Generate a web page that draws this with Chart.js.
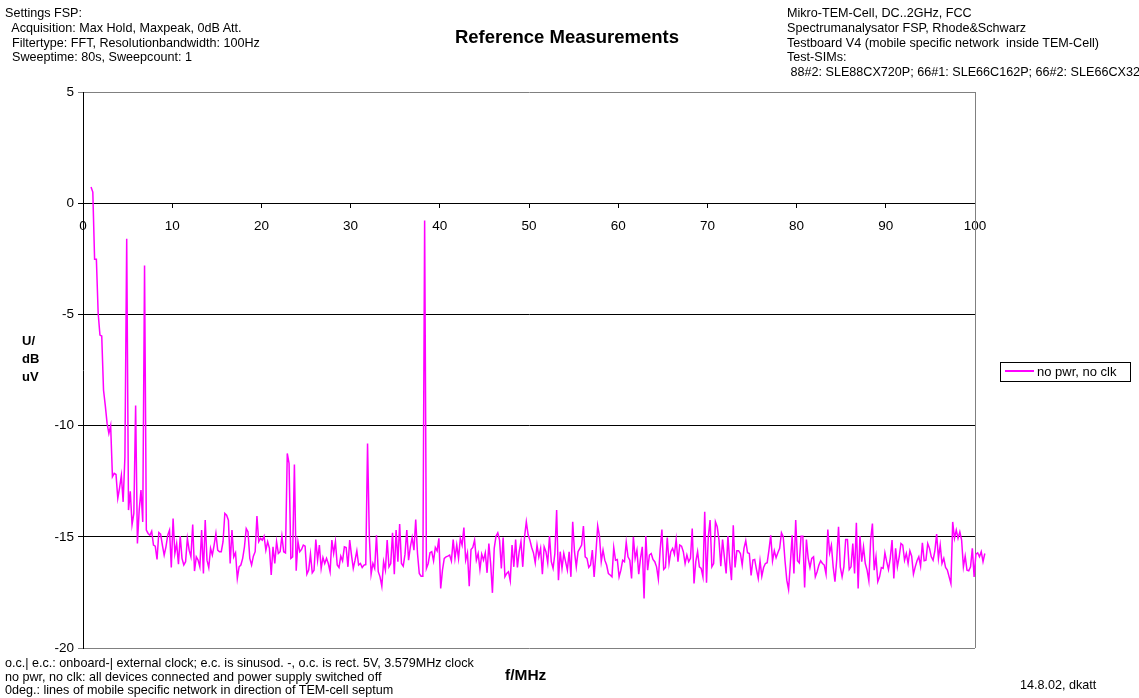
<!DOCTYPE html>
<html>
<head>
<meta charset="utf-8">
<title>Reference Measurements</title>
<script src="https://cdn.jsdelivr.net/npm/chart.js@4.4.1/dist/chart.umd.min.js"></script>
<style>
html, body { margin: 0; padding: 0; background: #fff; overflow: hidden; }
#wrap { position: relative; width: 1139px; height: 698px; overflow: hidden;
        font-family: "Liberation Sans", Arial, sans-serif; color: #000; }
#chart { position: absolute; left: 0; top: 0; }
.note { position: absolute; font-size: 12.6px; line-height: 14.8px; white-space: pre; }
.bold { position: absolute; font-weight: bold; white-space: pre; }
#title { position: absolute; left: 567px; top: 26px; transform: translateX(-50%);
         font-weight: bold; font-size: 18.5px; white-space: nowrap; }
#legend { position: absolute; left: 1000px; top: 362px; width: 129px; height: 18px;
          border: 1px solid #000; font-size: 13px; line-height: 18px; white-space: nowrap; }
#legend span { display: inline-block; width: 29px; height: 2px; background: #ff00ff;
               vertical-align: middle; margin: 0 3px 3px 4px; }
</style>
</head>
<body>
<div id="wrap">
  <canvas id="chart" width="1139" height="698"></canvas>

  <div class="note" style="left:5px; top:6px;">Settings FSP:
  Acquisition: Max Hold, Maxpeak, 0dB Att.
  Filtertype: FFT, Resolutionbandwidth: 100Hz
  Sweeptime: 80s, Sweepcount: 1</div>

  <div id="title">Reference Measurements</div>

  <div class="note" style="left:787px; top:6px;">Mikro-TEM-Cell, DC..2GHz, FCC
Spectrumanalysator FSP, Rhode&amp;Schwarz
Testboard V4 (mobile specific network  inside TEM-Cell)
Test-SIMs:
 88#2: SLE88CX720P; 66#1: SLE66C162P; 66#2: SLE66CX32</div>

  <div class="bold" style="left:22px; top:332px; font-size:13px; line-height:18px;">U/
dB
uV</div>

  <div id="legend"><span></span>no pwr, no clk</div>

  <div class="note" style="left:5px; top:657px; line-height:13.6px;">o.c.| e.c.: onboard-| external clock; e.c. is sinusod. -, o.c. is rect. 5V, 3.579MHz clock
no pwr, no clk: all devices connected and power supply switched off
0deg.: lines of mobile specific network in direction of TEM-cell septum</div>

  <div class="bold" style="left:505px; top:666px; font-size:15.5px;">f/MHz</div>

  <div class="note" style="left:1020px; top:678px;">14.8.02, dkatt</div>
</div>

<script>
// Sweep grid of the analyser trace (MHz)
const sweepStepMHz = 0.2;
const bandStartMHz = [0.9, 7.1, 23.1, 38.9, 54.5, 70.1, 86.1];

// Level in dB uV, one array per frequency band
const band0 = [
  0.73, 0.5, -2.52, -2.52, -4.95, -5.93, -5.97, -8.4, -9.1, -9.9,
  -10.35, -10.0, -12.3, -12.15, -12.2, -13.27, -12.8, -12.24, -13.43, -11.4,
  -1.6, -13.8, -12.95, -14.45, -13.95, -9.1, -15.3, -13.8, -12.9, -14.33,
  -2.8
];
const band1 = [
  -14.70, -14.85, -14.93, -14.75, -15.37, -15.42, -16.02, -14.81, -14.88, -15.37,
  -15.82, -15.45, -14.93, -14.70, -16.38, -14.18, -15.75, -15.30, -16.23, -14.97,
  -15.97, -16.27, -16.12, -15.07, -15.60, -15.90, -14.45, -16.54, -15.90, -16.05,
  -16.35, -14.70, -16.65, -14.25, -16.05, -16.39, -15.52, -15.82, -15.37, -14.85,
  -15.60, -15.67, -15.67, -15.22, -13.95, -14.03, -14.25, -16.20, -14.70, -15.90,
  -15.72, -16.87, -16.35, -16.27, -15.97, -15.45, -14.63, -14.78, -15.97, -16.27,
  -15.87, -15.67, -14.07, -15.22, -15.07, -15.15, -14.97, -15.60, -15.22, -15.52,
  -16.72, -15.45, -16.20, -15.22, -15.75, -15.67, -14.97, -15.67, -15.72, -11.25
];
const band2 = [
  -11.70, -15.97, -15.90, -11.75, -16.53, -15.22, -15.67, -15.57, -15.37, -15.42,
  -16.68, -16.50, -15.78, -16.62, -16.50, -15.12, -16.05, -15.37, -16.42, -15.93,
  -16.20, -15.97, -16.20, -16.57, -15.15, -15.75, -15.22, -16.27, -16.38, -15.87,
  -16.08, -15.45, -15.48, -16.35, -15.15, -15.82, -16.42, -16.05, -15.63, -16.27,
  -16.20, -16.38, -16.27, -16.25, -10.80, -15.00, -16.68, -16.20, -16.42, -14.93,
  -16.57, -16.80, -17.22, -16.12, -16.50, -15.15, -16.35, -16.20, -14.82, -16.68,
  -14.70, -16.12, -14.43, -16.20, -16.32, -15.78, -14.70, -16.05, -15.45, -15.03,
  -15.60, -14.22, -15.75, -16.65, -16.77, -16.77, -0.78, -16.42, -16.20
];
const band3 = [
  -15.72, -15.67, -16.08, -15.48, -15.63, -15.07, -17.32, -16.50, -15.97, -15.90,
  -15.87, -15.82, -16.09, -15.12, -15.97, -15.37, -15.97, -15.07, -15.37, -14.58,
  -16.05, -15.72, -17.22, -15.57, -15.48, -15.15, -16.05, -15.75, -16.47, -15.78,
  -16.05, -15.72, -16.62, -15.30, -16.20, -17.52, -15.52, -14.97, -14.82, -15.15,
  -16.42, -15.03, -16.80, -16.65, -16.57, -16.98, -15.37, -16.35, -15.12, -16.38,
  -15.67, -15.22, -16.35, -15.00, -14.33, -14.90, -15.15, -15.48, -15.72, -16.17,
  -15.37, -15.90, -15.52, -16.68, -15.45, -15.67, -16.17, -14.97, -16.12, -16.42,
  -15.75, -13.80, -16.95, -15.67, -16.42, -15.75, -16.12, -16.50
];
const band4 = [
  -15.67, -16.80, -14.33, -15.67, -16.35, -15.67, -15.52, -15.37, -14.52, -15.90,
  -15.97, -16.38, -16.27, -15.60, -16.80, -15.75, -14.51, -14.97, -16.12, -15.60,
  -16.05, -16.27, -16.65, -16.72, -16.80, -15.48, -16.05, -16.02, -16.80, -16.50,
  -16.05, -16.12, -15.25, -15.90, -16.05, -16.87, -15.00, -15.97, -15.60, -16.68,
  -15.97, -15.45, -17.77, -14.97, -16.50, -15.82, -15.75, -16.02, -16.12, -16.35,
  -16.90, -15.60, -14.67, -16.47, -16.38, -15.03, -16.20, -15.67, -15.52, -15.78,
  -15.12, -16.12, -15.37, -15.42, -15.67, -16.20, -15.82, -16.12, -15.97, -14.63,
  -17.10, -16.12, -15.67, -16.35, -16.42, -16.80, -13.88, -17.07
];
const band5 = [
  -15.00, -14.25, -16.35, -16.20, -14.33, -14.55, -15.15, -16.32, -15.12, -15.90,
  -16.65, -14.97, -16.12, -16.95, -14.48, -16.38, -15.63, -15.63, -15.75, -16.27,
  -15.52, -15.18, -15.72, -15.75, -16.74, -16.05, -16.02, -16.47, -16.87, -16.08,
  -16.77, -16.38, -16.20, -16.17, -15.60, -14.93, -16.08, -15.63, -15.94, -15.72,
  -15.52, -14.82, -15.00, -16.08, -16.95, -17.37, -16.20, -14.93, -16.65, -14.25,
  -16.08, -16.17, -14.97, -14.97, -17.28, -15.12, -15.97, -16.38, -15.97, -15.90,
  -16.80, -16.57, -16.27, -16.08, -16.20, -16.27, -16.68, -14.67, -15.72, -15.37,
  -16.35, -17.02, -16.02, -14.55, -16.35, -16.80, -16.35, -15.12, -15.12, -16.47
];
const band6 = [
  -16.35, -15.30, -16.65, -14.37, -17.32, -14.97, -16.12, -15.45, -16.20, -16.50,
  -16.98, -15.15, -14.40, -16.50, -15.90, -17.02, -16.80, -16.38, -16.42, -15.72,
  -16.12, -16.47, -15.97, -15.15, -16.87, -15.52, -16.35, -15.90, -15.30, -15.37,
  -16.05, -15.75, -16.20, -15.63, -15.87, -16.68, -16.35, -16.08, -15.90, -16.32,
  -15.27, -16.08, -16.05, -15.30, -15.52, -15.90, -16.05, -15.63, -14.88, -15.97,
  -15.37, -16.20, -15.97, -16.38, -16.50, -16.80, -17.10, -14.33, -15.07, -14.70,
  -15.07, -14.78, -15.15, -16.35, -15.87, -16.50, -16.53, -16.35, -15.52, -16.80,
  -15.78, -15.72, -15.90, -15.67, -16.12, -15.75
];

const seriesLabel = 'no pwr, no clk';
const xTicks = [0, 10, 20, 30, 40, 50, 60, 70, 80, 90, 100];
const yTicks = [5, 0, -5, -10, -15, -20];

const bands = [band0, band1, band2, band3, band4, band5, band6];
const trace = [];
bands.forEach((levels, b) => {
    levels.forEach((level, i) => {
        trace.push({ x: +(bandStartMHz[b] + i * sweepStepMHz).toFixed(2), y: level });
    });
});

const tickFont = { family: '"Liberation Sans", Arial, sans-serif', size: 13.5 };

// right edge of the plot frame; left edge is the value axis itself
const frameRight = {
    id: 'frameRight',
    beforeDatasetsDraw(chart) {
        const { ctx, chartArea: a } = chart;
        ctx.save();
        ctx.strokeStyle = '#808080';
        ctx.lineWidth = 1;
        ctx.beginPath();
        ctx.moveTo(Math.round(a.right) + 0.5, a.top);
        ctx.lineTo(Math.round(a.right) + 0.5, a.bottom);
        ctx.stroke();
        ctx.restore();
    }
};

new Chart(document.getElementById('chart'), {
    type: 'line',
    data: {
        datasets: [{
            label: seriesLabel,
            data: trace,
            borderColor: '#ff00ff',
            borderWidth: 1.5,
            pointRadius: 0,
            tension: 0,
            clip: false
        }]
    },
    options: {
        responsive: false,
        animation: false,
        layout: { padding: { left: 33, right: 164, top: 92, bottom: 50 } },
        plugins: { legend: { display: false }, tooltip: { enabled: false } },
        scales: {
            x: {
                type: 'linear',
                position: { y: 0 },
                // range set here rather than min/max so the sweep past 100 MHz is still drawn
                afterDataLimits: s => { s.min = xTicks[0]; s.max = xTicks[xTicks.length - 1]; },
                afterBuildTicks: s => { s.ticks = xTicks.map(v => ({ value: v })); },
                ticks: { color: '#000', font: tickFont, padding: 11, maxRotation: 0 },
                grid: { drawOnChartArea: false, tickLength: 4, color: '#000' },
                border: { color: '#000' }
            },
            y: {
                min: yTicks[yTicks.length - 1],
                max: yTicks[0],
                afterBuildTicks: s => { s.ticks = yTicks.map(v => ({ value: v })); },
                afterFit: s => { s.width = 50; },
                ticks: { color: '#000', font: tickFont, padding: 4 },
                grid: {
                    tickLength: 5,
                    color: c => (c.tick && (c.tick.value === 5 || c.tick.value === -20)) ? '#808080' : '#000'
                },
                border: { color: '#000' }
            }
        }
    },
    plugins: [frameRight]
});
</script>
</body>
</html>
